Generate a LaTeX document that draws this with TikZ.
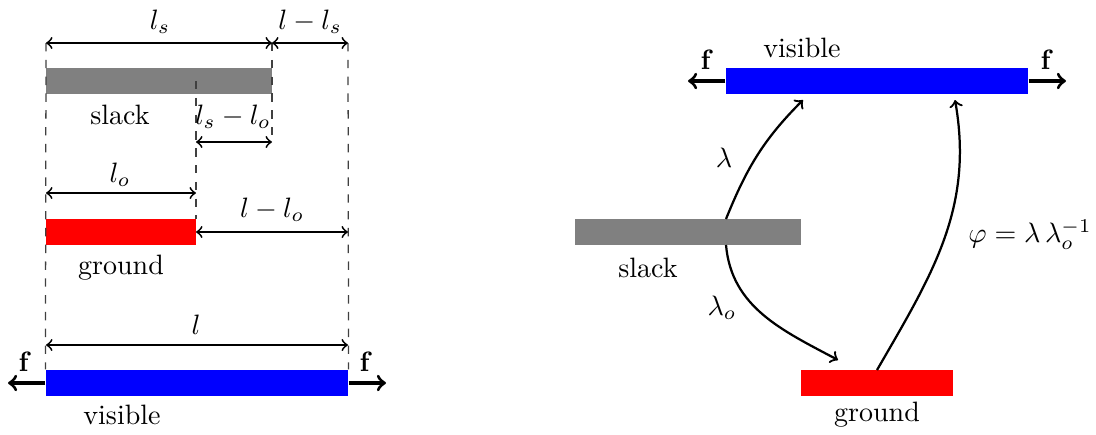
\documentclass[tikz,border=0pt]{standalone}
\usetikzlibrary{calc}
\begin{document}
\begin{tikzpicture}[x=0.357pt,y=0.357pt,
  bar/.style={rectangle,inner sep=0pt,minimum height=26*0.357pt,draw=none},
  dim/.style={<->,line width=0.65pt},
  force/.style={->,line width=1.15pt},
  guide/.style={dashed,black!75,line width=0.45pt},
  link/.style={->,line width=0.8pt},
  lbl/.style={inner sep=0pt}]
\useasboundingbox (0,0) rectangle (1096,434);
% ---------------- left panel ----------------
\node[bar,fill=gray,minimum width=226*0.357pt] (slackL) at (159,353) {};
\node[bar,fill=red,minimum width=150*0.357pt] (groundL) at (121,202) {};
\node[bar,fill=blue,minimum width=302*0.357pt] (visL) at (197,51) {};
\node[lbl] (tslackL) at (120,319) {slack};
\node[lbl] (tgroundL) at (121,166) {ground};
\node[lbl] (tvisL) at (122,19) {visible};
% guide coordinates
\coordinate (g0t) at (46,391);
\coordinate (g1t) at (272,391);
\coordinate (g2t) at (348,391);
\coordinate (g1b) at (272,292);
\coordinate (gmt) at (196,353);
\coordinate (gmb) at (196,215);
% dashed guides
\draw[guide] (g0t) -- (visL.north west);
\draw[guide] (g2t) -- (visL.north east);
\draw[guide] (g1t) -- (g1b);
\draw[guide] (gmt) -- (gmb);
% dimension arrows
\coordinate (d1a) at (46,391);
\coordinate (d1b) at (272,391);
\coordinate (d1c) at (348,391);
\draw[dim] (d1a) -- (d1b);
\draw[dim] (d1b) -- (d1c);
\node[lbl] (tls) at (160,412) {$l_s$};
\node[lbl] (tlls) at (310,412) {$l-l_s$};
\coordinate (d2a) at (196,292);
\coordinate (d2b) at (272,292);
\draw[dim] (d2a) -- (d2b);
\node[lbl] (tlslo) at (233,317) {$l_s-l_o$};
\coordinate (d3a) at (46,241);
\coordinate (d3b) at (196,241);
\draw[dim] (d3a) -- (d3b);
\node[lbl] (tlo) at (120,259) {$l_o$};
\coordinate (d4a) at (196,202);
\coordinate (d4b) at (348,202);
\draw[dim] (d4a) -- (d4b);
\node[lbl] (tllo) at (272,224) {$l-l_o$};
\coordinate (d5a) at (46,89);
\coordinate (d5b) at (348,89);
\draw[dim] (d5a) -- (d5b);
\node[lbl] (tl) at (196,109) {$l$};
% forces
\coordinate (fLl) at (8,51);
\coordinate (fLr) at (386,51);
\draw[force] (visL.west) -- (fLl);
\draw[force] (visL.east) -- (fLr);
\node[lbl] (tfL1) at (25,72) {$\mathbf{f}$};
\node[lbl] (tfL2) at (366,72) {$\mathbf{f}$};
% ---------------- right panel ----------------
\node[bar,fill=blue,minimum width=302*0.357pt] (visR) at (877,353) {};
\node[bar,fill=gray,minimum width=226*0.357pt] (slackR) at (688,202) {};
\node[bar,fill=red,minimum width=152*0.357pt] (groundR) at (877,51) {};
\node[lbl] (tvisR) at (802,386) {visible};
\node[lbl] (tslackR) at (648,166) {slack};
\node[lbl] (tgroundR) at (877,19) {ground};
\coordinate (fRl) at (688,353);
\coordinate (fRr) at (1066,353);
\draw[force] (visR.west) -- (fRl);
\draw[force] (visR.east) -- (fRr);
\node[lbl] (tfR1) at (707,374) {$\mathbf{f}$};
\node[lbl] (tfR2) at (1047,374) {$\mathbf{f}$};
% curved maps
\coordinate (lamS) at (726,215);
\coordinate (lamE) at (803,334);
\draw[link] (lamS) to[out=68,in=225] (lamE);
\node[lbl] (tlam) at (724,276) {$\lambda$};
\coordinate (loS) at (726,189);
\coordinate (loE) at (838,74);
\draw[link] (loS) to[out=-85,in=152] (loE);
\node[lbl] (tlamo) at (722,126) {$\lambda_o$};
\coordinate (phS) at (877,64);
\coordinate (phE) at (955,334);
\draw[link] (phS) to[out=60,in=-80] (phE);
\node[lbl] (tphi) at (1030,199) {$\varphi=\lambda\,\lambda_o^{-1}$};
\end{tikzpicture}
\end{document}
